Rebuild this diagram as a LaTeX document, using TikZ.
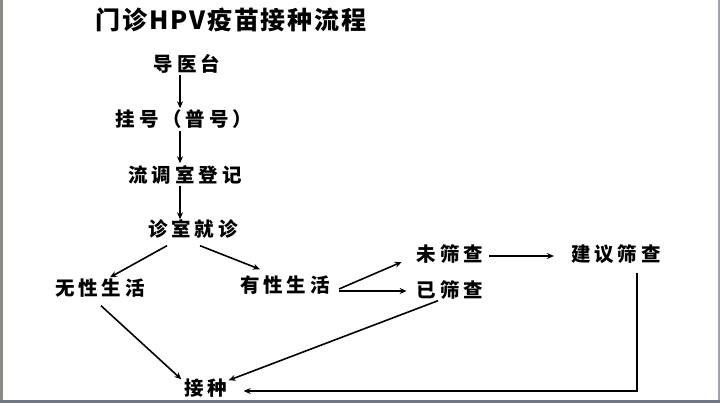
\documentclass[tikz,border=0pt]{standalone}
\usepackage{fontspec}
\setmainfont{Noto Sans CJK SC}
\newfontfamily\lblfont[LetterSpace=20]{Noto Sans CJK SC}
\newfontfamily\ttlfont[LetterSpace=7]{Noto Sans CJK SC}
\usetikzlibrary{arrows.meta}
\definecolor{edgegray}{HTML}{8C8884}
\definecolor{edgeright}{HTML}{A49EAC}
\definecolor{edgebottom}{HTML}{6C7A86}
\tikzset{
  lbl/.style={inner sep=0pt, text height=14pt, text depth=3pt, font=\lblfont\bfseries\fontsize{19.5pt}{19.5pt}\selectfont},
  ttl/.style={inner sep=0pt, font=\ttlfont\bfseries\fontsize{25pt}{25pt}\selectfont},
  conn/.style={line width=1.6pt, -{Stealth[length=7pt,width=6pt]}},
}
\begin{document}
\begin{tikzpicture}[x=1pt,y=-1pt]
\useasboundingbox (0,0) rectangle (720,403);
\fill[white] (0,0) rectangle (720,403);
\fill[edgegray] (0,0) rectangle (2.5,403);
\fill[edgeright] (717.5,0) rectangle (720,403);
\fill[edgebottom] (0,399.5) rectangle (720,403);

\node[ttl] (title) at (231,20) {门诊HPV疫苗接种流程};

\coordinate (col) at (180,0);
\node[lbl] (daoyi) at (187,66) {导医台};
\node[lbl] (guahao) at (184,121) {挂号（普号）};
\node[lbl] (liudiao) at (185,177) {流调室登记};
\node[lbl] (zhenshi) at (193,231) {诊室就诊};
\node[lbl] (wuxing) at (100,290) {无性生活};
\node[lbl] (youxing) at (285,287) {有性生活};
\node[lbl] (weishai) at (450,256) {未筛查};
\node[lbl] (jianyi) at (616,256) {建议筛查};
\node[lbl] (yishai) at (450,292) {已筛查};
\node[lbl] (jiezhong) at (206,390) {接种};

\draw[conn, shorten >=4pt] (daoyi.south -| col) -- (guahao.north -| col);
\draw[conn, shorten <=1pt, shorten >=5pt] (guahao.south -| col) -- (liudiao.north -| col);
\draw[conn, shorten >=3pt] (liudiao.south -| col) -- (zhenshi.north -| col);
\draw[conn] ([shift={(-26,6)}]zhenshi.south) -- ([shift={(10,-4)}]wuxing.north);
\draw[conn] ([shift={(7,6)}]zhenshi.south) -- ([shift={(-25,-9)}]youxing.north);
\draw[conn] ([shift={(9,2)}]youxing.east) -- ([shift={(-15,6)}]weishai.west);
\draw[conn] ([shift={(9,4)}]youxing.east) -- ([shift={(-10,-1)}]yishai.west);
\draw[conn] ([shift={(6,0)}]weishai.east) -- ([shift={(-17,0)}]jianyi.west);
\draw[conn] ([shift={(1,7)}]wuxing.south) -- ([shift={(-3,-2)}]jiezhong.north west);
\draw[conn] ([shift={(-12,0)}]yishai.south) -- ([shift={(1,-1)}]jiezhong.north east);
\draw[conn] ([shift={(21,8)}]jianyi.south) |- ([shift={(16,1)}]jiezhong.east);
\end{tikzpicture}
\end{document}
